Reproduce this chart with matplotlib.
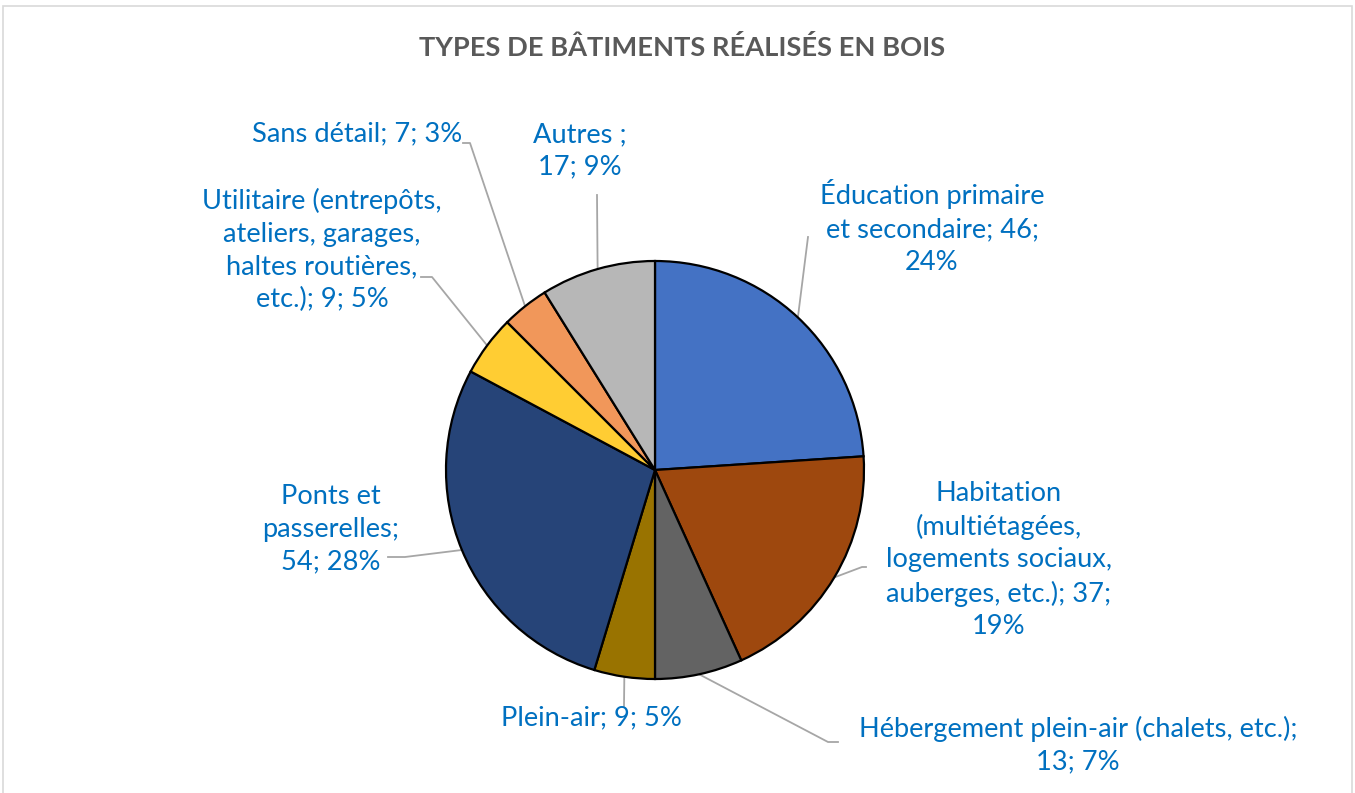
import numpy as np
import matplotlib.pyplot as plt
from matplotlib.patches import Rectangle

plt.rcParams['font.family'] = ['Lato', 'DejaVu Sans']

# donnees (sens horaire depuis midi)
categories = ['Éducation primaire et secondaire', 'Habitation (multiétagées, logements sociaux, auberges, etc.)',
              'Hébergement plein-air (chalets, etc.)', 'Plein-air', 'Ponts et passerelles',
              'Utilitaire (entrepôts, ateliers, garages, haltes routières, etc.)', 'Sans détail', 'Autres']
valeurs = [46, 37, 13, 9, 54, 9, 7, 17]
etiquettes = ['Éducation primaire\net secondaire; 46;\n24%',
              'Habitation\n(multiétagées,\nlogements sociaux,\nauberges, etc.); 37;\n19%',
              'Hébergement plein-air (chalets, etc.);\n13; 7%',
              'Plein-air; 9; 5%',
              'Ponts et\npasserelles;\n54; 28%',
              'Utilitaire (entrepôts,\nateliers, garages,\nhaltes routières,\netc.); 9; 5%',
              'Sans détail; 7; 3%',
              'Autres ;\n17; 9%']
couleurs = ['#4472C4', '#9E480E', '#636363', '#997300', '#264478', '#FFCD33', '#F1975A', '#B7B7B7']

# mise en page (pixels, origine en haut a gauche)
W, H = 1355, 793
cx, cy, r = 655, 470, 209
pos_texte = [(932, 227), (999, 560), (1078, 745), (591, 718), (331, 529), (322, 250), (357, 134), (580, 151)]
# coude puis fin de la ligne de rappel
coudes = [(808, 237), (862, 567), (828, 742), (624, 706), (405, 557), (432, 277), (470, 143), (597, 195)]
fins = [(808, 237), (866, 567), (838, 742), (624, 706), (388, 557), (421, 277), (463, 143), (597, 195)]

fig = plt.figure(figsize=(W / 100, H / 100), dpi=100)
ax = fig.add_axes([0, 0, 1, 1])

wedges, _ = ax.pie(valeurs, colors=couleurs, startangle=90, counterclock=False,
                   center=(cx, H - cy), radius=r, frame=True,
                   wedgeprops={'edgecolor': 'black', 'linewidth': 1.6})
ax.set_xlim(0, W)
ax.set_ylim(0, H)
ax.set_aspect('equal')
ax.axis('off')

for w, lab, (tx, ty), (kx, ky), (fx, fy) in zip(wedges, etiquettes, pos_texte, coudes, fins):
    a = np.deg2rad((w.theta1 + w.theta2) / 2)
    ex = cx + r * np.cos(a)
    ey = H - cy + r * np.sin(a)
    ax.plot([ex, kx, fx], [ey, H - ky, H - fy], color='#A6A6A6', lw=1.3, zorder=0)
    ax.text(tx, H - ty, lab, ha='center', va='center', fontsize=19.6, color='#0070C0',
            linespacing=1.38)

ax.text(682, H - 48, 'TYPES DE BÂTIMENTS RÉALISÉS EN BOIS', ha='center', va='center',
        fontsize=19.6, fontweight='bold', color='#595959')

fig.patches.append(Rectangle((3, -5), W - 6, H + 2 - 3, transform=None, fill=False,
                             edgecolor='#D9D9D9', lw=1.2))

plt.savefig('out.png', dpi=100)
